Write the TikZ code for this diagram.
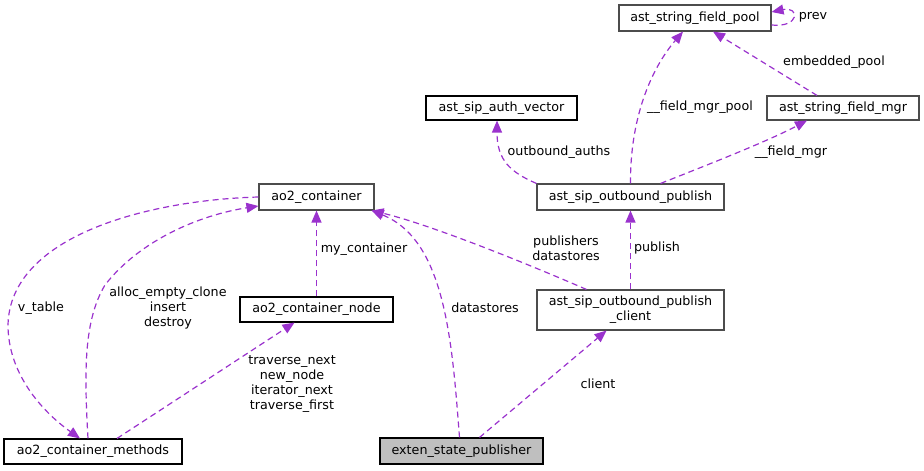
\documentclass[tikz,border=0pt]{standalone}
\usepackage{fontspec}
\newfontfamily\dxfont{DejaVu Sans}
\usepackage{xcolor}
\usepackage{tikz}
\usetikzlibrary{arrows.meta}
\usetikzlibrary{calc}
\definecolor{relpurple}{RGB}{154,50,205}
\definecolor{rootgray}{RGB}{191,191,191}
\tikzset{
  cls/.style={draw=black, line width=1.1pt, fill=white, inner sep=0pt, align=center,
    font=\dxfont\fontsize{12.7}{14.7}\selectfont},
  clsg/.style={cls, draw=black!70},
  rel/.style={relpurple, line width=1.2pt, dash pattern=on 6pt off 4pt,
    -{Triangle[length=12pt,width=10pt]}},
  rellbl/.style={inner sep=0pt, align=center, font=\dxfont\fontsize{12.7}{14.7}\selectfont}
}

\begin{document}
\begin{tikzpicture}[x=1pt,y=-1pt]
        \useasboundingbox (0,0) rectangle (924,471);

        %%% CLASSES %%%
        \node[clsg, minimum width=115pt, minimum height=26pt] (ao2c) at (316.5,197) {ao2\_container};
        \node[cls, minimum width=153pt, minimum height=25pt] (ao2node) at (316.5,309.5) {ao2\_container\_node};
        \node[cls, minimum width=178pt, minimum height=25pt] (ao2meth) at (93,451.5) {ao2\_container\_methods};
        \node[cls, fill=rootgray, minimum width=163pt, minimum height=26pt] (esp) at (461.5,451) {exten\_state\_publisher};
        \node[clsg, minimum width=187pt, minimum height=40pt] (opclient) at (630.5,310) {ast\_sip\_outbound\_publish\\\_client};
        \node[clsg, minimum width=187pt, minimum height=26pt] (oppub) at (630.5,197) {ast\_sip\_outbound\_publish};
        \node[cls, minimum width=151pt, minimum height=24pt] (authvec) at (501.5,108) {ast\_sip\_auth\_vector};
        \node[clsg, minimum width=152pt, minimum height=24pt] (sfmgr) at (843,108) {ast\_string\_field\_mgr};
        \node[clsg, minimum width=152pt, minimum height=26pt] (sfpool) at (695,18) {ast\_string\_field\_pool};

        %%% RELATIONS %%%
        \draw[rel] (ao2c.west) .. controls (150,200) and (10,235) .. (8,325)
            .. controls (8,372) and (40,410) .. ([xshift=-13pt]ao2meth.north);
        \draw[rel] ([xshift=-5pt]ao2meth.north) .. controls (84,370) and (84,320) .. (105,285)
            .. controls (140,240) and (200,215) .. ([yshift=-9pt]ao2c.west);
        \draw[rel] ([xshift=24pt]ao2meth.north) -- ([xshift=-22pt]ao2node.south);
        \draw[rel] (ao2node.north) -- (ao2c.south);
        \draw[rel] ([xshift=-2pt]esp.north) .. controls (452,340) and (445,240) .. ([xshift=-3pt]ao2c.south east);
        \draw[rel] ([xshift=-44pt]opclient.north) .. controls (500,252) and (420,222) .. ([xshift=-3pt]ao2c.south east);
        \draw[rel] ([xshift=18pt]esp.north) -- ([xshift=-24pt]opclient.south);
        \draw[rel] (opclient.north) -- (oppub.south);
        \draw[rel] (oppub.north west) .. controls (510,172) and (497,160) .. ([xshift=-4.5pt]authvec.south);
        \draw[rel] (oppub.north) .. controls (630,120) and (650,70) .. ([xshift=-12pt]sfpool.south);
        \draw[rel] ([xshift=30pt]oppub.north) .. controls (720,160) and (770,140) .. ([xshift=-36pt]sfmgr.south);
        \draw[rel] ([xshift=-26pt]sfmgr.north) -- ([xshift=18pt]sfpool.south);
        \draw[rel] ([yshift=-7pt]sfpool.east) .. controls (800,28) and (800,6) .. ([yshift=6pt]sfpool.east);

        %%% LABELS %%%
        \node[rellbl] (lvtable) at (41,308) {v\_table};
        \node[rellbl] (lalloc) at (168,308) {alloc\_empty\_clone\\insert\\destroy};
        \node[rellbl] (ltraverse) at (292,384) {traverse\_next\\new\_node\\iterator\_next\\traverse\_first};
        \node[rellbl] (lmycont) at (364,249) {my\_container};
        \node[rellbl] (ldatast) at (485,308) {datastores};
        \node[rellbl] (lpubl) at (566,248) {publishers\\datastores};
        \node[rellbl] (lpublish) at (657,248) {publish};
        \node[rellbl] (lclient) at (598,384) {client};
        \node[rellbl] (lauths) at (559,152) {outbound\_auths};
        \node[rellbl] (lmgrpool) at (700,107) {\_\_field\_mgr\_pool};
        \node[rellbl] (lmgr) at (791,152) {\_\_field\_mgr};
        \node[rellbl] (lembed) at (834,62) {embedded\_pool};
        \node[rellbl] (lprev) at (813,17) {prev};
\end{tikzpicture}
\end{document}
